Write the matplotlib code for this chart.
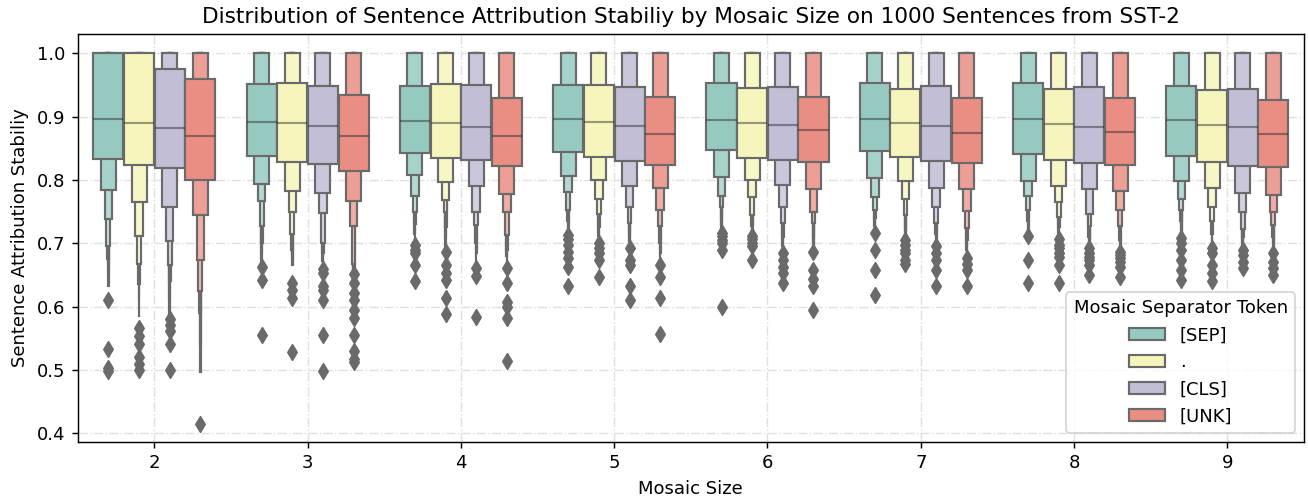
import colorsys
import matplotlib
matplotlib.use("Agg")
import matplotlib.pyplot as plt
import matplotlib.colors as mcolors
from matplotlib.patches import Patch

# ---------------- data (letter values) ----------------
mosaic_sizes = [2, 3, 4, 5, 6, 7, 8, 9]
tokens = ["[SEP]", ".", "[CLS]", "[UNK]"]
base_colors = ["#8dd3c7", "#ffffb3", "#bebada", "#fb8072"]  # Set3
score_ceiling = 1.0  # every upper letter value beyond the 75th percentile is 1.0

# lower letter values per mosaic size: q25, q12.5, q6.25, q3.1, q1.6, q0.8, q0.4
sep_median = [0.8955, 0.891, 0.893, 0.897, 0.894, 0.8955, 0.8955, 0.894]
sep_q75 = [1.0, 0.952, 0.949, 0.950, 0.9525, 0.9536, 0.9525, 0.949]
sep_lower = [
    [0.833, 0.784, 0.739, 0.695, 0.675, 0.655, 0.632],
    [0.8375, 0.794, 0.766, 0.727, 0.700, 0.685, 0.669],
    [0.8427, 0.8074, 0.775, 0.750, 0.730, 0.715, 0.705],
    [0.8443, 0.806, 0.781, 0.752, 0.735, 0.725, 0.716],
    [0.847, 0.805, 0.774, 0.758, 0.740, 0.730, 0.721],
    [0.8454, 0.803, 0.773, 0.753, 0.740, 0.728, 0.720],
    [0.841, 0.799, 0.775, 0.753, 0.735, 0.720, 0.712],
    [0.8375, 0.798, 0.770, 0.753, 0.735, 0.720, 0.712],
]
sep_outliers = [
    [0.611, 0.533, 0.503, 0.499],
    [0.662, 0.642, 0.555],
    [0.698, 0.690, 0.684, 0.666, 0.640],
    [0.713, 0.706, 0.698, 0.687, 0.677, 0.663, 0.632],
    [0.717, 0.711, 0.705, 0.700, 0.690, 0.600],
    [0.716, 0.690, 0.658, 0.618],
    [0.711, 0.674, 0.637],
    [0.708, 0.700, 0.690, 0.674, 0.658, 0.642],
]

dot_median = [0.890, 0.890, 0.890, 0.891, 0.890, 0.890, 0.8876, 0.886]
dot_q75 = [1.0, 0.9536, 0.952, 0.950, 0.945, 0.943, 0.944, 0.942]
dot_lower = [
    [0.824, 0.765, 0.711, 0.667, 0.635, 0.610, 0.584],
    [0.829, 0.782, 0.749, 0.715, 0.690, 0.675, 0.666],
    [0.834, 0.797, 0.768, 0.750, 0.725, 0.710, 0.695],
    [0.836, 0.800, 0.770, 0.746, 0.725, 0.712, 0.703],
    [0.834, 0.800, 0.773, 0.744, 0.728, 0.720, 0.712],
    [0.836, 0.798, 0.770, 0.744, 0.725, 0.715, 0.708],
    [0.831, 0.790, 0.765, 0.741, 0.725, 0.715, 0.708],
    [0.828, 0.787, 0.758, 0.735, 0.715, 0.705, 0.695],
]
dot_outliers = [
    [0.566, 0.553, 0.541, 0.520, 0.510, 0.500],
    [0.637, 0.626, 0.614, 0.529],
    [0.687, 0.666, 0.653, 0.642, 0.613, 0.588],
    [0.700, 0.692, 0.684, 0.674, 0.647],
    [0.711, 0.706, 0.700, 0.695, 0.673],
    [0.705, 0.698, 0.690, 0.684, 0.674, 0.668],
    [0.706, 0.698, 0.692, 0.684, 0.679, 0.666, 0.637],
    [0.692, 0.684, 0.666, 0.653, 0.640],
]

cls_median = [0.882, 0.885, 0.883, 0.885, 0.8865, 0.885, 0.883, 0.884]
cls_q75 = [0.9757, 0.948, 0.950, 0.947, 0.947, 0.949, 0.947, 0.944]
cls_lower = [
    [0.8185, 0.757, 0.704, 0.666, 0.640, 0.610, 0.585],
    [0.825, 0.779, 0.748, 0.701, 0.685, 0.672, 0.663],
    [0.831, 0.790, 0.749, 0.729, 0.700, 0.685, 0.669],
    [0.8306, 0.791, 0.757, 0.732, 0.715, 0.705, 0.697],
    [0.831, 0.792, 0.758, 0.732, 0.710, 0.695, 0.686],
    [0.8306, 0.788, 0.757, 0.732, 0.715, 0.705, 0.698],
    [0.826, 0.786, 0.747, 0.727, 0.710, 0.700, 0.694],
    [0.8216, 0.779, 0.749, 0.722, 0.710, 0.700, 0.693],
]
cls_outliers = [
    [0.580, 0.571, 0.562, 0.541, 0.500],
    [0.659, 0.653, 0.632, 0.626, 0.611, 0.555, 0.498],
    [0.661, 0.649, 0.583],
    [0.692, 0.674, 0.666, 0.632, 0.611],
    [0.684, 0.674, 0.663, 0.653, 0.637],
    [0.695, 0.684, 0.674, 0.658, 0.632],
    [0.692, 0.684, 0.679, 0.674, 0.665, 0.650],
    [0.690, 0.682, 0.671, 0.661],
]

unk_median = [0.870, 0.869, 0.870, 0.873, 0.879, 0.874, 0.8755, 0.873]
unk_q75 = [0.9588, 0.9335, 0.929, 0.931, 0.931, 0.929, 0.929, 0.926]
unk_lower = [
    [0.7995, 0.745, 0.674, 0.625, 0.590, 0.540, 0.497],
    [0.8148, 0.767, 0.728, 0.668, 0.662, 0.658, 0.655],
    [0.8216, 0.778, 0.749, 0.713, 0.690, 0.680, 0.669],
    [0.823, 0.787, 0.752, 0.728, 0.700, 0.685, 0.672],
    [0.829, 0.786, 0.750, 0.732, 0.710, 0.698, 0.690],
    [0.826, 0.786, 0.751, 0.724, 0.705, 0.690, 0.680],
    [0.823, 0.782, 0.752, 0.727, 0.705, 0.693, 0.688],
    [0.8206, 0.776, 0.749, 0.729, 0.710, 0.700, 0.690],
]
unk_outliers = [
    [0.415],
    [0.652, 0.638, 0.622, 0.611, 0.595, 0.582, 0.555, 0.530, 0.518, 0.512],
    [0.661, 0.637, 0.608, 0.600, 0.582, 0.514],
    [0.666, 0.647, 0.614, 0.557],
    [0.687, 0.658, 0.644, 0.632, 0.594],
    [0.677, 0.668, 0.658, 0.633],
    [0.687, 0.681, 0.676, 0.671, 0.663, 0.647],
    [0.684, 0.671, 0.661, 0.650],
]

medians = [sep_median, dot_median, cls_median, unk_median]
q75s = [sep_q75, dot_q75, cls_q75, unk_q75]
lowers = [sep_lower, dot_lower, cls_lower, unk_lower]
outliers_all = [sep_outliers, dot_outliers, cls_outliers, unk_outliers]

# ---------------- styling ----------------
def desaturate(c, prop=0.75):
    r, g, b = mcolors.to_rgb(c)
    h, l, s = colorsys.rgb_to_hls(r, g, b)
    return colorsys.hls_to_rgb(h, l, s * prop)

def mix_white(c, t):
    return tuple(ci + (1 - ci) * t for ci in c)

colors = [desaturate(c) for c in base_colors]
lum = min(colorsys.rgb_to_hls(*c)[1] for c in colors) * 0.6
gray = (lum, lum, lum)

fig = plt.figure(figsize=(1308 / 130, 500 / 130), dpi=130)
ax = fig.add_axes([77.7 / 1308, 1 - 441.7 / 500, (1304 - 77.7) / 1308, (441.7 - 34.3) / 500])
ax.set_axisbelow(True)
ax.grid(True, linestyle="-.", color="0.88", linewidth=0.8)

n_hue = len(tokens)
box_w = 0.8 / n_hue * 0.98
offsets = [(j - (n_hue - 1) / 2) * 0.8 / n_hue for j in range(n_hue)]
n_levels = 7
k = n_levels - 1
lw = 1.2

for j in range(n_hue):
    shades = [mix_white(colors[j], 0.85 * i / k) for i in range(k)]
    for gi in range(len(mosaic_sizes)):
        x = gi + offsets[j]
        lows = lowers[j][gi]
        ups = [q75s[j][gi]] + [score_ceiling] * (n_levels - 1)
        for level in range(n_levels - 1, -1, -1):  # outermost first, IQR last
            w = box_w * 2.0 ** (-level)
            lo, hi = lows[level], ups[level]
            ax.bar(x, hi - lo, w, bottom=lo, color=shades[min(level, k - 1)],
                   edgecolor=gray, linewidth=lw, zorder=1)
        med = medians[j][gi]
        ax.plot([x - box_w / 2, x + box_w / 2], [med, med], color=".15", alpha=.45,
                linewidth=lw, solid_capstyle="butt", zorder=2)
        outs = outliers_all[j][gi]
        ax.scatter([x] * len(outs), outs, marker="d", c=[gray], zorder=1)

ax.set_xticks(range(len(mosaic_sizes)))
ax.set_xticklabels([str(s) for s in mosaic_sizes])
ax.set_xlim(-0.5, len(mosaic_sizes) - 0.5)
ax.set_ylim(0.3867, 1.030)
ax.set_yticks([0.4, 0.5, 0.6, 0.7, 0.8, 0.9, 1.0])
ax.set_xlabel("Mosaic Size")
ax.set_ylabel("Sentence Attribution Stabiliy")
ax.set_title("Distribution of Sentence Attribution Stabiliy by Mosaic Size on 1000 Sentences from SST-2")

handles = [Patch(facecolor=colors[j], edgecolor=gray, linewidth=lw, label=tokens[j]) for j in range(n_hue)]
ax.legend(handles=handles, title="Mosaic Separator Token", loc="lower right")

fig.savefig("out.png", dpi=130)
